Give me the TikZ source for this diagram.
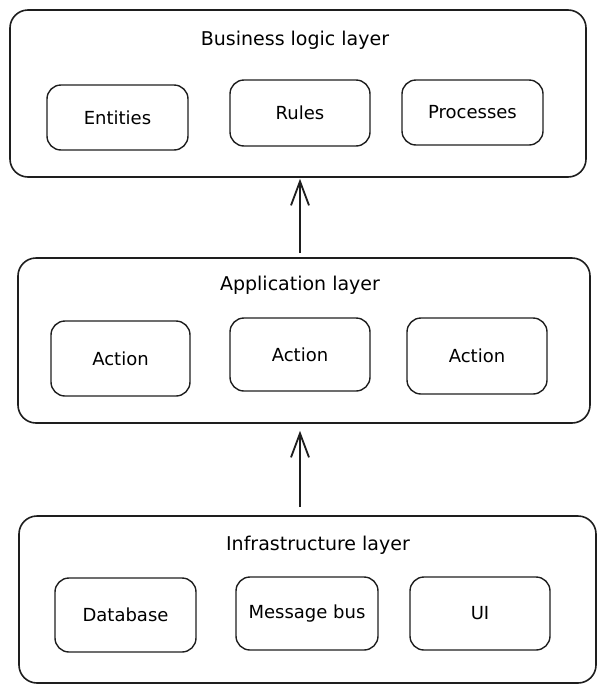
\documentclass[tikz,border=0pt]{standalone}
\usepackage{fontspec}
\setmainfont{DejaVu Sans}
\usetikzlibrary{arrows.meta}
\definecolor{ink}{HTML}{1E1E1E}
\tikzset{
	layerbox/.style={draw=ink, line width=1.6pt, rounded corners=18pt, inner sep=0pt},
	partbox/.style={draw=ink, line width=1.4pt, rounded corners=14pt, inner sep=0pt, font=\fontsize{18}{21}\selectfont},
	layertitle/.style={font=\fontsize{19}{22}\selectfont},
	uparrow/.style={draw=ink, line width=1.8pt, -{Straight Barb[length=24pt,width=18pt]}}
}

\begin{document}
\begin{tikzpicture}[x=1pt, y=-1pt]
		%%%%% START %%%%%
		\useasboundingbox (0, 0) rectangle (603, 691);
		
		\node[layerbox, minimum width=576pt, minimum height=167pt] (business) at (298, 93.5) {};
		\node[layertitle] (businesstitle) at (295, 40) {Business logic layer};
		\node[partbox, minimum width=141pt, minimum height=65pt] (entities) at (117.5, 117.5) {Entities};
		\node[partbox, minimum width=140pt, minimum height=66pt] (rules) at (300, 113) {Rules};
		\node[partbox, minimum width=141pt, minimum height=65pt] (processes) at (472.5, 112.5) {Processes};
		
		\node[layerbox, minimum width=572pt, minimum height=165pt] (application) at (304, 340.5) {};
		\node[layertitle] (applicationtitle) at (300, 285) {Application layer};
		\node[partbox, minimum width=139pt, minimum height=75pt] (actionone) at (120.5, 358.5) {Action};
		\node[partbox, minimum width=140pt, minimum height=73pt] (actiontwo) at (300, 354.5) {Action};
		\node[partbox, minimum width=140pt, minimum height=76pt] (actionthree) at (477, 356) {Action};
		
		\node[layerbox, minimum width=577pt, minimum height=167pt] (infrastructure) at (307.5, 599.5) {};
		\node[layertitle] (infrastructuretitle) at (318, 545) {Infrastructure layer};
		\node[partbox, minimum width=141pt, minimum height=74pt] (database) at (125.5, 615) {Database};
		\node[partbox, minimum width=142pt, minimum height=73pt] (messagebus) at (307, 613.5) {Message bus};
		\node[partbox, minimum width=140pt, minimum height=73pt] (ui) at (480, 613.5) {UI};
		
		\draw[uparrow, shorten <=4pt, shorten >=1pt] (application.north -| rules) -- (business.south -| rules);
		\draw[uparrow, shorten <=8pt, shorten >=7pt] (infrastructure.north -| actiontwo) -- (application.south -| actiontwo);
		
		%%%%% END %%%%%
	\end{tikzpicture}
\end{document}
